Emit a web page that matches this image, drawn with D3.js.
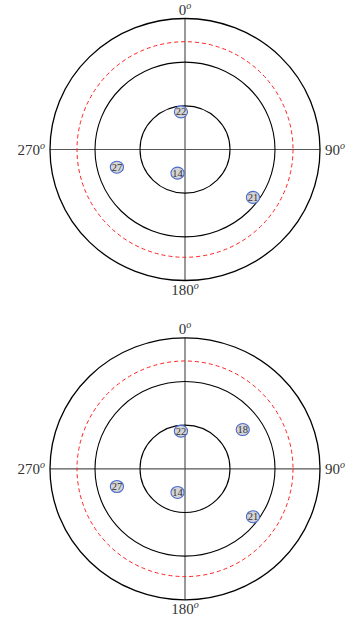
<!DOCTYPE html>
<html>
<head>
<meta charset="utf-8">
<script src="https://cdn.jsdelivr.net/npm/d3@7"></script>
<style>
  body { margin: 0; background: #fff; }
  svg { display: block; }
  text { font-family: "Liberation Serif", "DejaVu Serif", serif; }
</style>
</head>
<body>
<svg id="chart" width="355" height="617"></svg>
<script>
"use strict";
// sky plots: azimuth (deg, clockwise from north) and elevation (deg)
var ringElev = [60, 30, 0];
var maskElev = 18;
var dirLabels = ["0", "90", "180", "270"];
var dirAngles = [0, 90, 180, 270];

var satTopIds = [22, 14, 27, 21];
var satTopAz = [354, 197, 255, 126];
var satTopEl = [64, 73, 43, 34];

var satBotIds = [22, 18, 14, 27, 21];
var satBotAz = [354, 55, 197, 255, 126];
var satBotEl = [64, 43, 73, 43, 34];

document.addEventListener("DOMContentLoaded", function () {
    var svg = d3.select("#chart");
    var rx = d3.scaleLinear().domain([90, 0]).range([0, 135]);
    var ry = d3.scaleLinear().domain([90, 0]).range([0, 131]);

    function skyPlot(cx, cy, ids, az, el) {
        var g = svg.append("g").attr("transform", "translate(" + cx + "," + cy + ")");

        // cross lines
        g.append("line").attr("x1", 0).attr("x2", 0)
            .attr("y1", -ry(0)).attr("y2", ry(0))
            .attr("stroke", "#555").attr("stroke-width", 1.2);
        g.append("line").attr("y1", 0).attr("y2", 0)
            .attr("x1", -rx(0)).attr("x2", rx(0))
            .attr("stroke", "#555").attr("stroke-width", 1.2);

        g.selectAll("ellipse.ring")
            .data(ringElev)
            .enter()
            .append("ellipse")
            .attr("class", "ring")
            .attr("rx", function (d) { return rx(d); })
            .attr("ry", function (d) { return ry(d); })
            .attr("fill", "none")
            .attr("stroke", "#000")
            .attr("stroke-width", function (d) { return d === 0 ? 1.3 : 1.1; });

        g.append("ellipse")
            .attr("rx", rx(maskElev))
            .attr("ry", ry(maskElev) + 3)
            .attr("fill", "none")
            .attr("stroke", "#ff2020")
            .attr("stroke-width", 1)
            .attr("stroke-dasharray", "4,3");

        // direction labels
        var lab = g.selectAll("text.dir")
            .data(dirLabels)
            .enter()
            .append("text")
            .attr("class", "dir")
            .attr("font-size", 15)
            .attr("fill", "#333")
            .attr("x", function (d, i) {
                var a = dirAngles[i];
                if (a === 90) return rx(0) + 5;
                if (a === 270) return -rx(0) - 5;
                return 0;
            })
            .attr("y", function (d, i) {
                var a = dirAngles[i];
                if (a === 0) return -ry(0) - 4;
                if (a === 180) return ry(0) + 14.5;
                return 5;
            })
            .attr("text-anchor", function (d, i) {
                var a = dirAngles[i];
                if (a === 90) return "start";
                if (a === 270) return "end";
                return "middle";
            });
        lab.append("tspan").text(function (d) { return d; });
        lab.append("tspan")
            .attr("font-size", 10)
            .attr("font-style", "italic")
            .attr("dy", -6)
            .text("o");

        // satellites
        var sats = g.selectAll("g.sat")
            .data(ids)
            .enter()
            .append("g")
            .attr("class", "sat")
            .attr("transform", function (d, i) {
                var t = az[i] * Math.PI / 180;
                var x = rx(el[i]) * Math.sin(t);
                var y = -ry(el[i]) * Math.cos(t);
                return "translate(" + x + "," + y + ")";
            });
        sats.append("ellipse")
            .attr("rx", 6.6)
            .attr("ry", 6)
            .attr("fill", "#d4d4d4")
            .attr("stroke", "#4a6ad0")
            .attr("stroke-width", 1.1);
        sats.append("text")
            .attr("text-anchor", "middle")
            .attr("y", 3.5)
            .attr("font-size", 10.5)
            .attr("fill", "#333")
            .text(function (d) { return d; });
    }

    skyPlot(185, 149.5, satTopIds, satTopAz, satTopEl);
    skyPlot(185, 468.8, satBotIds, satBotAz, satBotEl);
});
</script>
</body>
</html>
